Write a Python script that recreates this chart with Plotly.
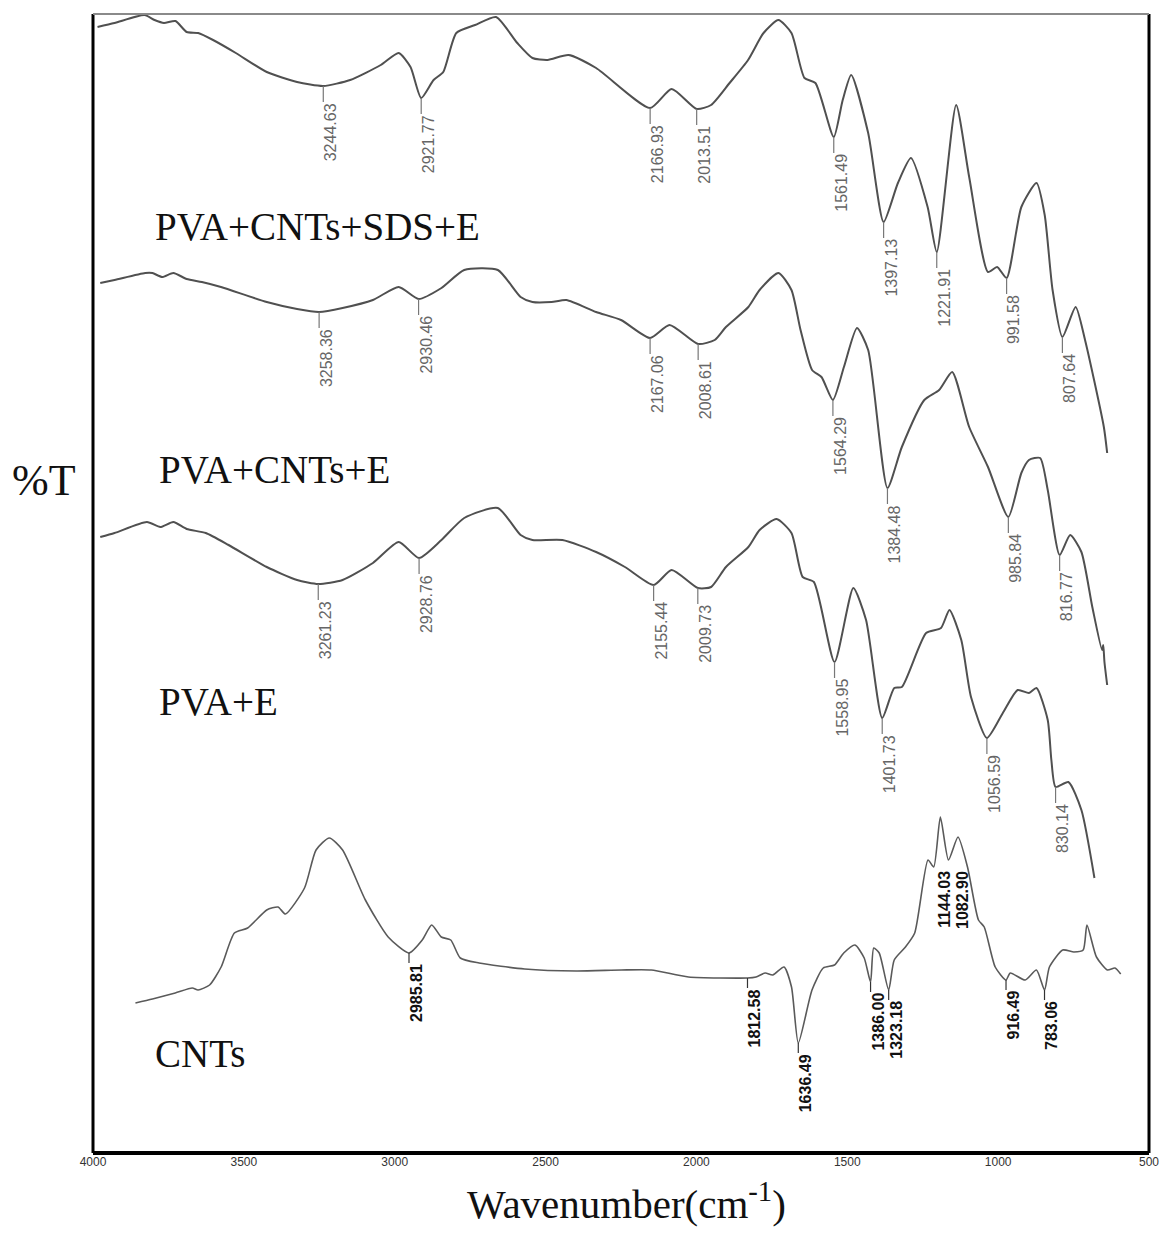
import plotly.graph_objects as go

# ---------------- FTIR spectra (wavenumber in cm-1, transmittance in offset %T units) ----------------
sds_wn = [3989, 3933, 3834, 3801, 3770, 3732, 3695, 3657, 3608, 3533, 3431, 3331, 3244.63, 3156, 3055,
          2996, 2957, 2921.77, 2881, 2849, 2806, 2744, 2675, 2605, 2555, 2505, 2436, 2345, 2166.93, 2096,
          2013.51, 1966, 1905, 1844, 1793, 1744, 1701, 1658, 1622, 1561.49, 1532, 1504, 1448, 1397.13,
          1350, 1307, 1252, 1221.91, 1158, 1115, 1053, 1023, 991.58, 943, 893, 866, 840, 807.64, 764,
          733, 671, 660]
sds_t = [112.6, 113.0, 113.8, 113.3, 113.0, 113.2, 112.1, 112.0, 111.3, 110.0, 108.1, 107.1, 106.7, 107.3,
         108.8, 110.0, 108.6, 105.5, 107.3, 108.1, 112.0, 112.8, 113.6, 111.0, 109.5, 109.3, 109.8, 108.5,
         104.5, 106.4, 104.4, 104.8, 107.0, 109.3, 112.0, 113.3, 112.0, 107.5, 107.0, 101.6, 105.3, 107.8,
         102.0, 93.1, 97.0, 99.5, 94.6, 90.1, 104.8, 97.6, 88.1, 88.6, 87.5, 94.6, 97.0, 93.8, 86.3, 81.6,
         84.6, 81.3, 72.6, 70.0]
sds_peaks = ["3244.63", "2921.77", "2166.93", "2013.51", "1561.49", "1397.13", "1221.91", "991.58", "807.64"]

cnte_wn = [3980, 3933, 3832, 3808, 3776, 3739, 3695, 3645, 3582, 3431, 3331, 3258.36, 3181, 3081, 2996,
           2930.46, 2855, 2780, 2669, 2594, 2555, 2492, 2443, 2345, 2263, 2167.06, 2103, 2008.61, 1954,
           1917, 1843, 1806, 1744, 1701, 1671, 1633, 1602, 1564.29, 1528, 1485, 1448, 1384.48, 1337, 1263,
           1214, 1171, 1115, 1053, 985.84, 943, 918, 881, 856, 816.77, 782, 745, 709, 677, 673, 669, 660]
cnte_t = [87.0, 87.3, 88.0, 88.0, 87.6, 88.0, 87.4, 87.1, 86.6, 85.1, 84.4, 84.1, 84.5, 85.3, 86.6, 85.4,
          86.5, 88.3, 88.3, 85.6, 85.1, 85.1, 85.3, 84.1, 83.3, 81.5, 82.8, 80.9, 81.3, 82.6, 84.6, 86.3,
          88.0, 86.3, 82.3, 78.3, 77.6, 75.3, 78.6, 82.5, 80.3, 66.5, 70.6, 75.3, 76.3, 78.1, 72.6, 68.6,
          63.6, 68.0, 69.3, 69.5, 66.3, 59.8, 61.8, 60.1, 54.6, 50.3, 50.8, 49.1, 46.8]
cnte_peaks = ["3258.36", "2930.46", "2167.06", "2008.61", "1564.29", "1384.48", "985.84", "816.77"]

pvae_wn = [3980, 3933, 3826, 3782, 3739, 3695, 3632, 3557, 3431, 3331, 3261.23, 3181, 3081, 2996, 2928.76,
           2855, 2780, 2669, 2594, 2555, 2456, 2345, 2250, 2155.44, 2096, 2009.73, 1966, 1917, 1843, 1806,
           1750, 1701, 1664, 1627, 1558.95, 1497, 1455, 1401.73, 1362, 1337, 1257, 1208, 1180, 1141, 1109,
           1056.59, 1004, 955, 918, 893, 856, 844, 830.14, 788, 745, 702]
pvae_t = [61.6, 62.0, 63.1, 62.6, 63.1, 62.4, 62.0, 60.8, 58.6, 57.3, 56.9, 57.3, 59.0, 61.1, 59.5, 61.3,
          63.5, 64.5, 61.8, 61.3, 61.3, 60.1, 58.6, 56.8, 58.3, 56.5, 56.6, 58.6, 60.6, 62.3, 63.4, 62.0,
          57.6, 57.1, 49.1, 56.5, 53.3, 43.5, 46.5, 46.6, 52.0, 52.5, 54.3, 51.3, 45.6, 41.5, 44.0, 46.3,
          46.0, 46.5, 43.3, 39.3, 36.6, 37.1, 34.3, 27.5]
pvae_peaks = ["3261.23", "2928.76", "2155.44", "2009.73", "1558.95", "1401.73", "1056.59", "830.14"]

cnt_wn = [3934, 3875, 3796, 3737, 3717, 3677, 3637, 3591, 3545, 3479, 3440, 3414, 3348, 3308, 3262, 3216,
          3137, 3058, 2985.81, 2940, 2907, 2874, 2841, 2808, 2743, 2585, 2406, 2250, 2146, 2017, 1812.58,
          1783, 1751, 1725, 1686, 1660, 1636.49, 1589, 1550, 1511, 1479, 1440, 1408, 1386.00, 1375, 1356,
          1323.18, 1304, 1265, 1233, 1187, 1167, 1144.03, 1116, 1082.90, 1050, 1012, 992, 954, 916.49, 902,
          850, 811, 783.06, 766, 720, 681, 649, 636, 603, 565, 539, 519]
cnt_t = [15.0, 15.4, 16.0, 16.5, 16.3, 16.8, 18.6, 22.0, 22.5, 24.3, 24.6, 23.9, 26.5, 30.3, 31.5, 30.3,
         25.3, 21.6, 20.0, 21.3, 22.8, 21.6, 21.3, 19.5, 19.0, 18.4, 18.2, 18.3, 18.3, 17.6, 17.5, 17.6,
         18.0, 17.8, 18.6, 16.6, 11.0, 16.3, 18.5, 18.8, 20.0, 20.8, 19.5, 17.1, 20.5, 20.0, 16.3, 19.3,
         20.6, 22.0, 29.3, 28.6, 33.6, 29.3, 31.6, 28.6, 23.3, 22.6, 18.6, 17.3, 18.0, 17.3, 18.3, 16.3,
         18.6, 20.3, 20.1, 20.3, 22.8, 19.6, 18.3, 18.5, 17.9]
cnt_peaks = ["2985.81", "1812.58", "1636.49", "1386.00", "1323.18", "916.49", "783.06"]
cnt_band_tops = ["1144.03", "1082.90"]

sample_names = ["PVA+CNTs+SDS+E", "PVA+CNTs+E", "PVA+E", "CNTs"]
x_ticks = [4000, 3500, 3000, 2500, 2000, 1500, 1000, 500]

# ---------------- styling ----------------
SERIF = "Liberation Serif, Times New Roman, serif"
PEAK_FONT = dict(family="Liberation Sans, Arial, sans-serif", size=16, color="#666666")
CNT_FONT = dict(family="Liberation Sans Narrow, Arial Narrow, Liberation Sans, sans-serif",
                size=16, color="#111111", weight="bold")

fig = go.Figure()

# the PVA films and the CNT powder were scanned separately; each spectrum rides on its own
# hidden wavenumber scale overlaid on the drawn 4000-500 axis
PVA_AX, CNT_AX = "x2", "x3"


def add_spectrum(wn, t, xaxis, color, width):
    fig.add_trace(go.Scatter(x=wn, y=t, xaxis=xaxis, mode="lines",
                             line=dict(color=color, width=width, shape="spline", smoothing=0.6),
                             hoverinfo="skip", showlegend=False))


def add_peak_labels(wn, t, labels, xaxis, drop, tick_color, font):
    lookup = dict(zip(wn, t))
    xs, ys = [], []
    for lab in labels:
        w = float(lab)
        v = lookup[w]
        xs += [w, w, None]
        ys += [v, v - drop, None]
        fig.add_annotation(x=w, y=v - drop, xref=xaxis, yref="y", text=lab, textangle=-90,
                           showarrow=False, xanchor="center", yanchor="top", xshift=7,
                           font=font, borderpad=0)
    fig.add_trace(go.Scatter(x=xs, y=ys, xaxis=xaxis, mode="lines",
                             line=dict(color=tick_color, width=1.2),
                             hoverinfo="skip", showlegend=False))


add_spectrum(sds_wn, sds_t, PVA_AX, "#505050", 2)
add_spectrum(cnte_wn, cnte_t, PVA_AX, "#505050", 2)
add_spectrum(pvae_wn, pvae_t, PVA_AX, "#505050", 2)
add_spectrum(cnt_wn, cnt_t, CNT_AX, "#5a5a5a", 1.6)

add_peak_labels(sds_wn, sds_t, sds_peaks, PVA_AX, 1.6, "#777777", PEAK_FONT)
add_peak_labels(cnte_wn, cnte_t, cnte_peaks, PVA_AX, 1.6, "#777777", PEAK_FONT)
add_peak_labels(pvae_wn, pvae_t, pvae_peaks, PVA_AX, 1.6, "#777777", PEAK_FONT)
add_peak_labels(cnt_wn, cnt_t, cnt_peaks, CNT_AX, 1.0, "#333333", CNT_FONT)

# band-top labels of the CNT doublet sit just under the two maxima
cnt_lookup = dict(zip(cnt_wn, cnt_t))
band_y = min(cnt_lookup[float(s)] for s in cnt_band_tops) - 3.3
for lab in cnt_band_tops:
    fig.add_annotation(x=float(lab), y=band_y, xref=CNT_AX, yref="y", text=lab, textangle=-90,
                       showarrow=False, xanchor="center", yanchor="top", xshift=4,
                       font=CNT_FONT, borderpad=0)

# sample names
name_pos = [(3800, 92.7), (3788, 68.4), (3788, 45.2), (3800, 10.0)]
for name, (xn, yn) in zip(sample_names, name_pos):
    fig.add_annotation(x=xn, y=yn, xref="x", yref="y", text=name, showarrow=False,
                       xanchor="left", yanchor="middle", font=dict(family=SERIF, size=39, color="#111111"))

# axis titles
fig.add_annotation(x=-0.046, y=0.59, xref="paper", yref="paper", text="%T", showarrow=False,
                   xanchor="center", yanchor="middle", font=dict(family=SERIF, size=44, color="#111111"))
fig.add_annotation(x=0.505, y=-0.042, xref="paper", yref="paper", text="Wavenumber(cm<sup>-1</sup>)",
                   showarrow=False, xanchor="center", yanchor="middle",
                   font=dict(family=SERIF, size=41, color="#111111"))

# frame: heavy black left/bottom/right edges, light grey top edge
frame = [
    dict(x0=0, x1=0, y0=0, y1=1, color="#000000", width=3),
    dict(x0=0, x1=1, y0=0, y1=0, color="#000000", width=4),
    dict(x0=1, x1=1, y0=0, y1=1, color="#000000", width=3),
    dict(x0=0, x1=1, y0=1, y1=1, color="#8a8a8a", width=2),
]
for f in frame:
    fig.add_shape(type="line", xref="paper", yref="paper", x0=f["x0"], x1=f["x1"], y0=f["y0"], y1=f["y1"],
                  line=dict(color=f["color"], width=f["width"]), layer="above")

fig.update_layout(
    width=1171, height=1233,
    margin=dict(l=93, r=14, t=14, b=80),
    paper_bgcolor="white", plot_bgcolor="white",
    showlegend=False,
    xaxis=dict(range=[4000, 500], tickvals=x_ticks, ticktext=[str(v) for v in x_ticks],
               ticks="", showgrid=False, zeroline=False, showline=False,
               tickfont=dict(family="Liberation Sans Narrow, Arial Narrow, sans-serif", size=12, color="#333333")),
    xaxis2=dict(range=[4003.9, 522.1], overlaying="x", anchor="y", visible=False),
    xaxis3=dict(range=[4081.1, 420.9], overlaying="x", anchor="y", visible=False),
    yaxis=dict(range=[0, 113.9], showticklabels=False, ticks="", showgrid=False, zeroline=False, showline=False),
)

fig.write_html("out.html")
